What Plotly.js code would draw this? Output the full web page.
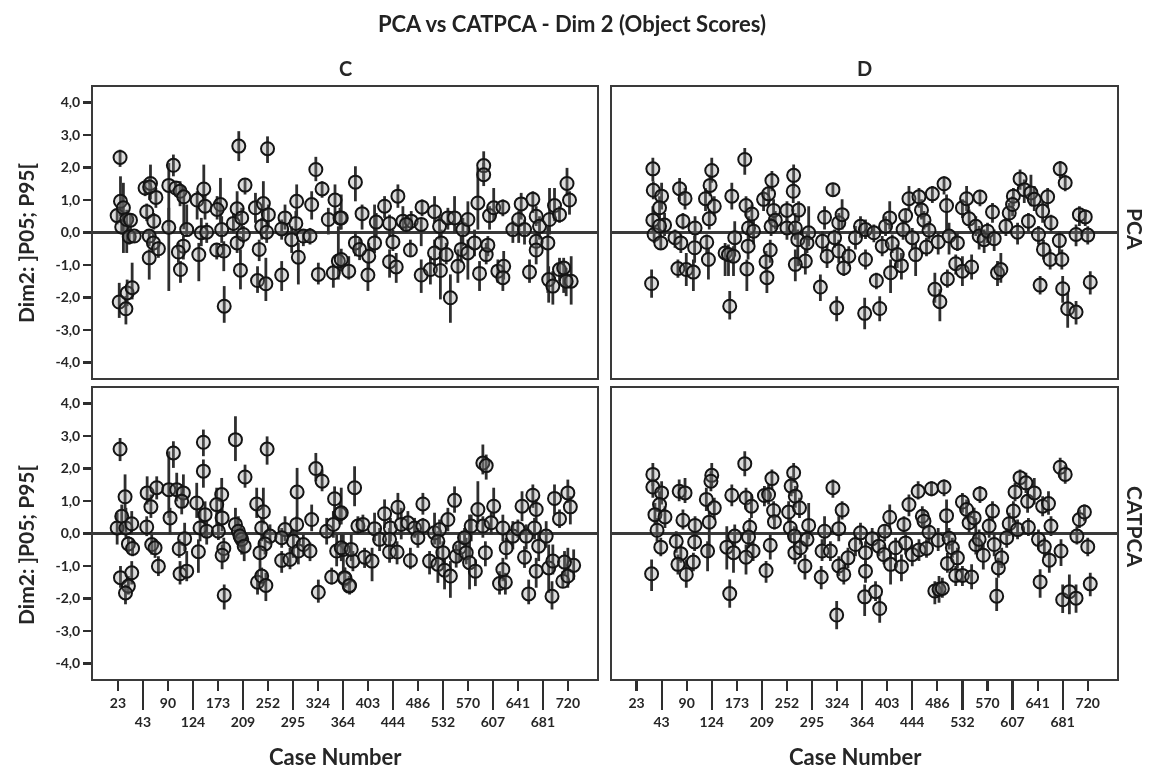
<!DOCTYPE html>
<html><head><meta charset="utf-8">
<script src="https://cdn.plot.ly/plotly-3.0.1.min.js"></script>
<style>html,body{margin:0;background:#fff;overflow:hidden}#g{width:1151px;height:771px;filter:blur(0.7px)}</style>
</head><body><div id="g"></div>
<script>
// Each row: [case position, score, P95, P05]
const oddLabels=['23','90','173','252','324','403','486','570','641','720'];
const evenLabels=['43','124','209','295','364','444','532','607','681'];
const oddPositions=[6,18,30,42,54,66,78,90,102,114];
const evenPositions=[12,24,36,48,60,72,84,96,108];
const yTicks=[4,3,2,1,0,-1,-2,-3,-4];
const yLabels=['4,0','3,0','2,0','1,0','0,0','-1,0','-2,0','-3,0','-4,0'];

const cPca=[[6.5,2.31,2.55,2.02],[5.8,.52,.76,.25],[6.6,.96,1.73,.5],[6.9,.17,.4,-.06],[7.3,.76,1.53,-.63],[8.1,.4,.7,-.63],[9,.38,.6,0],[8.7,-.13,.09,-.37],[9.9,-.11,.05,-.32],[6.3,-2.14,-1.55,-2.63],[7.9,-2.35,-1.96,-2.83],[8.2,-1.86,-1.45,-2.27],[9.4,-1.7,-.93,-2.06],[12.9,.64,.89,.35],[12.5,1.37,1.63,1.12],[13.8,1.51,2.09,1.02],[13.6,1.4,1.7,1],[15.1,1.08,1.37,.76],[14.6,.35,.6,.09],[13.5,-.11,.09,-.42],[14.5,-.32,0,-.63],[13.5,-.78,-.52,-1.45],[15.7,-.5,-.27,-.78],[19.3,2.07,2.4,1.73],[18.2,1.45,2.14,.2],[18.2,.16,.76,-1.8],[19.9,1.37,1.58,1.12],[20.9,1.27,1.58,.81],[21.8,1.1,1.43,.1],[22.5,.09,.86,-.11],[21.7,-.42,-.11,-.83],[20.5,-.6,-.32,-.93],[21,-1.14,-.88,-1.55],[25,1,1.27,.4],[26.6,1.34,2.09,.91],[26.9,.81,1.17,.4],[26,-.01,.45,-.42],[27.3,.01,.3,-.32],[25.4,-.68,-.32,-1.5],[30.6,.86,1.68,.3],[29.8,.71,1.12,.4],[30.9,.09,.5,-.32],[29.7,-.54,-.32,-.83],[31.4,-.57,-.27,-1.19],[31.5,-2.27,-1.65,-2.78],[35,2.66,3.12,2.2],[36.5,1.46,1.68,1.17],[34.6,.73,1.27,.4],[33.7,.28,.6,-.01],[35.7,.45,.76,.09],[34.6,-.32,0,-.63],[36.1,-.06,.2,-.32],[35.4,-1.16,-.52,-1.75],[39,.76,1.22,.3],[40.9,.89,1.58,.4],[42.1,.55,.86,.2],[40.5,.19,.45,-.22],[41.7,.01,.3,-.32],[39.9,-.52,-.22,-.88],[39.5,-1.48,-1.04,-1.86],[41.5,-1.58,-.78,-2.11],[41.9,2.58,2.96,2.14],[46.1,.45,.86,.09],[45.3,.11,.4,-.22],[48.9,.96,1.48,.5],[48.7,.28,.66,-.11],[47.7,-.22,.19,-.63],[49.3,-.76,-.32,-1.6],[45.3,-1.31,-.88,-1.8],[50.5,-.11,.09,-.42],[52.1,-.11,.14,-.37],[52.5,.86,1.27,.4],[53.5,1.94,2.33,1.58],[55,1.34,1.58,1.07],[58.1,1,1.48,.4],[56.5,.4,.76,-.06],[59.3,.45,.76,.09],[54.1,-1.29,-.93,-1.6],[57.7,-1.24,-.98,-1.7],[58.9,-.88,.19,-1.45],[59.6,.45,1.17,.09],[63,1.55,2.04,.96],[64.6,.58,.86,.09],[59.6,-.83,-.5,-1.2],[61.4,-1.19,-.73,-1.45],[63,-.32,.04,-.73],[66,-1.31,-.93,-1.8],[66.2,-.73,-.32,-1.14],[64,-.52,-.2,-.85],[67.6,-.32,.86,-.63],[68,.32,.6,-.11],[70,.81,1.12,.45],[71.2,.28,.55,-.11],[72,-.29,.09,-.57],[71.2,-.9,-.52,-1.39],[72.8,-1.06,-.63,-1.55],[73.2,1.12,1.48,.76],[74.4,.35,.81,.09],[76.4,.35,.66,.09],[75.2,.25,.5,0],[76.2,-.54,-.22,-.73],[79,.78,1.02,.5],[78.8,.25,.45,-.42],[78.8,-1.31,-.83,-1.86],[81,-1.14,-.73,-1.6],[82,.64,1.12,.3],[83.2,.19,.5,-.22],[83.6,-.32,.09,-.78],[82,-.63,-.22,-1.04],[84.8,-.68,-.32,-.98],[83.4,-1.17,-.63,-2.06],[85.2,.45,.76,.09],[86.8,.45,1.12,-.01],[85.8,-2.01,-1.29,-2.78],[87.6,-1.04,-.52,-1.55],[88.8,.09,.45,-.42],[90,.4,.96,-.06],[88.4,-.52,-.11,-.93],[90,-.63,-.22,-1.45],[91.6,-.32,.09,-.73],[92.4,.91,2,.09],[92.8,-1.26,-.88,-1.8],[93.8,2.06,2.5,1.63],[93.8,1.78,2.14,1.43],[94.4,-.68,-.32,-.98],[94.8,-.39,-.11,-.73],[95.2,.52,.81,.09],[96.2,.76,1.37,.35],[98.4,.78,1.02,.5],[97.2,-1.19,-.83,-1.55],[98.6,-1.04,-.57,-1.45],[98.4,-1.39,-1.04,-1.8],[100.8,.09,.35,-.32],[102.2,.4,.66,-.32],[102.8,.88,1.22,.4],[103.6,.09,.4,-.37],[104.8,-1.22,-.83,-1.55],[105.6,1.02,1.27,.6],[106.4,.5,.81,.2],[107.2,.19,.5,-.22],[106.4,-.27,-.01,-.52],[106.4,-.54,-.22,-.98],[109.2,-.32,.19,-1.86],[109.6,.4,1.37,-.06],[109.4,-1.45,-1.04,-2.16],[110.4,-1.65,-1.19,-2.22],[110.8,.83,1.37,.35],[112,.55,.81,.3],[112,-1.14,-.78,-1.5],[113,-1.09,-.78,-1.86],[113.8,1.51,1.99,1.12],[114.4,1,1.27,.55],[114.8,-1.5,-.73,-2.22],[113.6,-1.5,-1.09,-1.96]];

const dPca=[[9.9,1.96,2.3,1.58],[10,1.3,1.58,1.02],[9.9,.38,.81,-.01],[10.2,-.06,.2,-.32],[9.6,-1.57,-1.14,-2.01],[12,1.12,1.53,.71],[11.5,.76,1.12,.3],[12.7,.23,.6,-.11],[11.8,-.32,-.06,-.52],[11.5,.2,.5,-.1],[16.3,1.35,1.68,.96],[17.6,1.05,1.37,.71],[17.1,.35,.6,.09],[15.2,-.16,.09,-.47],[16.6,-.32,-.06,-.63],[15.9,-1.11,-.83,-1.39],[17.9,-1.14,-.63,-1.65],[19.6,-1.22,-.83,-1.8],[19.9,-.47,-.11,-.93],[20,.14,.5,-.22],[22.5,1.04,1.37,.66],[23.6,1.45,1.78,1.12],[24,1.91,2.3,1.53],[24.6,.81,1.12,.5],[23.4,.42,.71,.09],[22.8,-.3,-.06,-.63],[23.2,-.83,-.47,-1.45],[28.8,1.12,1.53,.71],[29.5,-.16,.35,-.73],[27.2,-.63,-.32,-1.34],[28,-.68,-.37,-1.34],[29.2,-.73,-.42,-1.34],[28.3,-2.27,-1.8,-2.68],[31.9,2.25,2.6,1.78],[32.2,.83,1.12,.5],[33.6,.57,.86,.25],[32.8,.14,.5,-.22],[34,.04,.4,-.37],[32.7,-.42,-.06,-.83],[32.4,-1.12,-.83,-1.8],[36.4,1.02,1.27,.66],[37.6,1.19,1.43,.86],[38.4,1.6,1.89,1.27],[38.8,.68,1.02,.3],[39.2,.38,.66,.09],[38.2,.19,.45,-.11],[38,-.54,-.22,-.93],[37,-.9,-.57,-1.24],[37.2,-1.39,-1.09,-1.86],[43.6,1.76,2.09,1.37],[43.5,1.27,1.58,.91],[42,.68,.96,.35],[44.8,.69,.96,.35],[42,.14,.45,-.22],[44,.14,.6,-.22],[44.6,-.22,.09,-1.04],[47.2,-.01,.81,-.42],[46.4,-.88,-.52,-1.29],[44,-.98,-.52,-1.5],[46.8,-.32,-.01,-.63],[51,.47,.81,.09],[53,1.32,1.53,1.12],[50.5,-.27,.04,-.63],[51.6,-.73,-.37,-1.09],[50,-1.68,-1.29,-2.11],[53.4,-.16,.09,-.47],[54.4,.3,.6,-.06],[55.2,.55,1.02,.09],[54.4,-.57,-.22,-.93],[53.9,-2.32,-1.96,-2.73],[55.6,-1.09,-.73,-1.34],[56.8,-.73,-.42,-1.04],[58.4,-.16,.2,-.52],[59.6,.19,.5,-.16],[60.8,-.83,-.52,-1.14],[60.6,-2.49,-2.01,-2.98],[63.4,-1.48,-1.24,-1.75],[64.2,-2.34,-1.96,-2.73],[60.8,.09,.4,-.2],[62.8,-.01,.25,-.3],[64.8,-.42,-.11,-.73],[66.6,.45,.96,.09],[65.6,.19,.5,-.11],[67.2,-.34,-.06,-.63],[66.8,-1.24,-.83,-1.86],[69.4,-1.02,-.63,-1.45],[68.4,-.68,-.37,-1.09],[70.4,.52,.71,.3],[69.8,.09,.4,-.22],[71.2,1.04,1.43,.66],[72,-.16,.14,-.52],[72.8,-.68,-.32,-1.34],[73.6,1.1,1.37,.76],[74.2,.69,1.02,.4],[74.8,.38,.66,.09],[75.4,-.45,-.16,-.73],[76,.07,.35,-.22],[76.8,1.19,1.43,.91],[79.6,1.5,1.73,1.17],[80.2,.83,1.17,-.01],[78.2,-.29,-.01,-.68],[77.4,-1.75,-1.24,-2.16],[78.6,-2.13,-1.75,-2.73],[80.4,-1.43,-1.14,-1.7],[80.8,-.11,.3,-.68],[82.8,-.32,-.01,-.57],[82.4,-.96,-.68,-1.29],[84,-1.19,-.73,-1.65],[86.2,-1.06,-.68,-1.45],[84,.76,1.02,.45],[85,1.04,1.43,.66],[85.6,.42,.71,.14],[88.2,1.09,1.32,.81],[87.2,.19,.5,-.11],[88,-.11,.2,-.52],[89.2,-.22,.09,-.63],[90,.04,.3,-.32],[91.2,.63,.91,.3],[91.6,-.19,.09,-.57],[92.4,-1.24,-.88,-1.65],[93.2,-1.14,-.63,-1.55],[94.4,.19,.45,-.11],[95.2,.6,.91,.35],[96.2,1.12,1.37,.81],[96,.86,1.12,.5],[97.2,.01,.3,-.37],[97.8,1.65,1.94,1.32],[98.8,1.32,1.63,.91],[99.8,.35,.6,.04],[100.4,1.22,1.78,.81],[101.2,1.02,1.43,.66],[102.2,-.06,.2,-.37],[102.6,-1.62,-1.34,-1.91],[103.4,-.52,-.22,-.83],[103.2,.66,.96,.3],[104.4,1.1,1.37,.76],[105.2,.3,.55,-.01],[105,-.83,-.52,-1.14],[107.4,1.96,2.2,1.68],[108.6,1.53,1.78,1.27],[107.2,-.25,.04,-.63],[107.8,-.83,-.52,-1.14],[108,-1.73,-1.34,-2.16],[109.2,-2.35,-1.86,-2.93],[111.2,-2.45,-2.11,-2.83],[111.2,-.06,.25,-.42],[112,.55,.81,.2],[113.4,.48,.71,.2],[114,-.08,.19,-.37],[114.6,-1.53,-1.19,-1.91]];

const cCat=[[6.5,2.6,2.94,2.23],[7.7,1.13,1.82,.74],[5.8,.17,.64,-.34],[6.9,.53,.89,-.03],[7.9,.17,.79,-.13],[9.3,.3,.69,-.03],[8.5,-.32,-.08,-.59],[9.5,-.46,-.18,-.7],[6.6,-1.36,-1,-1.67],[9.3,-1.21,-.85,-1.57],[8.5,-1.62,-1.31,-1.88],[7.8,-1.83,-1.57,-2.18],[13,1.25,1.76,.89],[15.3,1.41,1.76,1.05],[13.9,.82,1.2,.48],[12.9,.2,.53,-.08],[14.1,-.34,-.03,-.65],[14.9,-.44,-.18,-.75],[15.7,-1.01,-.7,-1.31],[19.3,2.48,2.84,2.02],[18.2,1.35,2.53,.48],[18.5,.48,.79,-.03],[20.1,1.35,1.87,.99],[21.7,1.25,1.82,.79],[21.3,.99,1.51,.59],[22,-.16,.33,-.54],[20.7,-.47,-.18,-.75],[20.9,-1.24,-.85,-1.57],[22.5,-1.16,-.54,-1.47],[26.5,2.81,3.2,2.38],[26.5,1.92,2.28,1.41],[24.9,.94,1.56,.48],[26.9,.58,.99,-.13],[25.7,.17,.74,-.24],[27.3,.07,.38,-.34],[25.3,-.56,-.18,-1.21],[30.9,1.2,1.71,.64],[29.7,.89,1.41,.28],[31,.48,.99,.07],[30.1,.07,.35,-.2],[31.4,-.46,-.13,-.85],[31,-.67,-.34,-1.1],[31.5,-1.9,-1.57,-2.34],[34.2,2.89,3.61,2.23],[36.5,1.74,2.12,1.41],[34.2,.28,.79,-.24],[34.9,.07,.53,-.34],[35.7,-.18,.17,-.65],[35.3,-.08,.28,-.44],[36.3,-.39,-.03,-.85],[39.3,.91,1.41,.48],[40.9,.67,1.41,.28],[40.5,.17,.48,-.24],[42.5,-.08,.28,-.34],[41.3,-.32,-.03,-.65],[40.1,-.59,-.24,-1.16],[39.5,-1.5,-1.16,-1.88],[40.5,-1.31,-1.05,-1.57],[41.5,-1.6,-1.21,-2.08],[41.8,2.6,2.99,2.12],[46.1,.12,.53,-.24],[45.3,-.13,.17,-.44],[45.3,-.83,-.54,-1.21],[47.3,-.8,-.44,-1.1],[49,1.28,2.02,.48],[48.9,.28,.53,-.13],[48.1,-.24,.12,-.75],[49.3,-.54,-.24,-.95],[50.5,-.34,-.03,-.65],[52.1,-.54,-.28,-.85],[52.5,.43,.89,.07],[53.5,2,2.48,1.61],[55,1.61,1.97,1.3],[54.1,-1.81,-1.42,-2.13],[56.1,.07,.48,-.34],[58,1.07,1.45,.64],[57.7,.28,.69,-.13],[57.3,-1.34,-1.05,-1.57],[59.3,.61,.94,.28],[58.5,-.54,-.03,-1.01],[60.1,-.49,-.03,-1.16],[60.5,-1.39,-1.05,-1.67],[61.5,-1.62,-1.31,-1.83],[59.6,.64,1.41,.28],[59.6,-.44,-.03,-.85],[60.4,-1.36,-1.05,-1.57],[61.6,-1.6,-1.31,-1.88],[62.8,1.41,2.07,.84],[63.6,.23,.53,-.03],[64.8,.28,.58,.02],[62.4,-.85,-.54,-1.16],[62,-.49,-.03,-.85],[65.2,-.73,-.44,-1.06],[67,-.85,-.44,-1.47],[67.6,.15,.64,-.24],[70,.61,1.05,.17],[68.8,-.18,.17,-.54],[71.4,.17,.48,-.24],[71.2,-.18,.17,-.54],[71.2,-.57,-.24,-.9],[73,-.57,-.24,-.95],[73.2,.81,1.25,.43],[74,.28,.79,-.18],[75.6,.33,.69,.07],[76.2,-.83,-.44,-1.1],[77.2,.17,.48,-.13],[78,-.13,.17,-.44],[79.2,.91,1.25,.58],[79.2,.23,.48,-.03],[80.8,-.85,-.54,-1.26],[82,.02,.64,-.34],[83.2,.12,.43,-.34],[82.8,-.24,.07,-.65],[82.8,-.95,-.54,-1.52],[84,-.59,-.24,-1.05],[84.4,-1.13,-.75,-1.72],[85.2,.43,.79,.07],[85.8,-1.31,-.85,-1.98],[86.8,1.02,1.45,.64],[87.2,-.7,-.34,-1.05],[88,-.44,-.03,-.85],[89.2,-.13,.17,-.44],[89.6,-.59,-.13,-.95],[90.4,-.9,.58,-1.72],[90.8,.23,.58,-.24],[91.8,-1.16,-.8,-1.62],[92.4,.74,1.61,.28],[93.6,.23,.53,-.13],[93.6,2.17,2.74,1.82],[94.4,2.09,2.43,1.66],[94.2,-.59,-.24,-1.01],[96.2,.84,1.41,.48],[95.6,.33,.64,-.03],[98.4,.17,.58,-.24],[97.6,-1.54,-1.16,-1.88],[98.4,-1.11,-.75,-1.47],[99,-1.5,-1.21,-1.88],[99.2,-.44,-.13,-.8],[100.8,-.08,.38,-.49],[102,.15,.43,-.13],[103,.84,1.3,.38],[103.6,-.73,-.39,-1.06],[104,-.08,.28,-.49],[104.6,-1.86,-1.42,-2.18],[105.6,1.18,1.51,.79],[106.4,.74,1.05,.38],[106,.17,.48,-.18],[107,-.39,-.03,-.85],[106.4,-1.16,-.75,-1.67],[108.8,-.08,.38,-.44],[109.4,-1.06,-.34,-1.83],[110.2,-1.93,-1.47,-2.34],[110.4,-.85,-.34,-1.26],[110.8,1.08,1.51,.58],[112,.45,.74,.17],[112.8,-1.47,-1.16,-1.67],[114,1.25,1.66,.94],[114.6,.82,1.15,.28],[114,-1.31,-.44,-1.67],[115.4,-.98,-.49,-1.42],[113.2,-.88,-.54,-1.26]];

const dCat=[[9.9,1.82,2.17,1.46],[9.9,1.43,1.71,1.1],[12,1.25,1.61,.89],[11.5,.89,1.3,.48],[10.4,.58,.94,.28],[12.8,.51,.84,.17],[10.9,.1,.48,-.24],[11.8,-.42,-.13,-.7],[9.6,-1.24,-.8,-1.77],[16.2,1.3,1.66,.99],[17.6,1.25,1.71,.94],[17.1,.41,.74,.12],[15.5,-.24,.07,-.59],[16.6,-.62,-.34,-.9],[15.9,-.95,-.65,-1.26],[17.9,-1.26,-.8,-1.67],[19.6,-.88,-.59,-1.16],[20,.25,.53,-.03],[19.9,-.26,.07,-.54],[22.7,1.05,1.41,.69],[24,1.79,2.17,1.46],[23.8,1.61,1.92,1.3],[24.6,.79,1.1,.43],[23.4,.35,.69,-.75],[23,-.54,-.24,-1.16],[28.8,1.18,1.51,.84],[29.5,-.08,.28,-.44],[27.6,-.42,.22,-1.11],[29.2,-.59,-.24,-1.21],[28.3,-1.85,-1.42,-2.29],[31.9,2.15,2.53,1.76],[32.2,1.1,1.41,.74],[33.5,.84,1.2,.48],[33.1,.19,.48,-.24],[32.8,-.11,.17,-.44],[33.9,-.54,-.24,-.85],[32.2,-.73,-.34,-1.26],[36.6,1.17,1.46,.84],[37.6,1.2,1.51,.89],[38.4,1.69,1.97,1.35],[38.8,.71,.99,.43],[39,.36,.58,.12],[38,-.36,-.03,-.8],[37,-1.14,-.85,-1.52],[43.6,1.87,2.17,1.56],[43,1.46,1.76,1.15],[44,1.15,1.46,.79],[42.4,.66,.99,.33],[45,.79,1.1,.48],[42.8,.17,.48,-.24],[43.8,-.08,.22,-.44],[43.9,-.59,-.24,-.95],[47.2,.25,.94,-.18],[45.2,-.44,-.13,-.75],[46.3,-1,-.65,-1.42],[46.8,-.18,.12,-.49],[51,.07,.53,-.34],[50.2,-1.34,-1,-1.72],[50.4,-.54,-.18,-.85],[53,1.41,1.66,1.1],[52.4,-.54,-.24,-.85],[55.2,.72,.99,.43],[54.4,.15,.53,-.24],[53.9,-2.51,-2.08,-2.95],[54.4,-1,-.7,-1.31],[55.6,-1.26,-.95,-1.57],[56.6,-.75,-.44,-1.06],[58.4,-.34,.02,-.7],[59.6,.02,.33,-.34],[60.8,-.59,-.24,-.95],[60.8,-1.16,-.85,-1.52],[60.6,-1.95,-1.57,-2.54],[62.4,-.16,.17,-.49],[63.2,-1.79,-1.47,-2.08],[64.2,-2.31,-1.93,-2.75],[64,-.39,-.08,-.7],[65.2,-.65,-.34,-.95],[66.6,.5,.89,.12],[65.4,.07,.28,-.24],[66.8,-.95,-.54,-1.57],[68,-.44,-.13,-.85],[69.4,-1.02,-.65,-1.47],[70,.28,.53,-.03],[71.2,.89,1.2,.53],[70.4,-.29,.02,-.65],[72,-.65,-.34,-1.01],[73.4,1.3,1.61,1.05],[73.6,-.51,-.18,-.85],[74.4,.53,.84,.22],[74.8,.38,.69,.12],[75.4,-.46,-.18,-.75],[76,.04,.28,-.29],[76.6,1.38,1.61,1.15],[79.6,1.43,1.66,1.15],[80.2,.55,1.05,-.13],[78.2,-.21,.17,-.54],[77.4,-1.77,-1.47,-2.18],[78.4,-1.72,-1.31,-2.13],[79.2,-1.69,-1.36,-1.98],[80.8,-.15,.17,-.49],[80.4,-.92,-.59,-1.21],[81.6,-.44,-.13,-.75],[82.8,-.75,-.44,-1.06],[82.4,-1.29,-1,-1.62],[84,-1.29,-1,-1.62],[86.2,-1.34,-.95,-1.72],[84,.97,1.25,.64],[85,.74,1.05,.43],[85.6,.33,.64,.02],[86.8,.48,.79,.17],[88.2,1.22,1.46,.94],[87.2,-.34,.48,-.65],[88,-.18,.12,-.54],[89,-.67,-.34,-1.11],[90.4,.23,.53,-.13],[91.2,.69,.99,.38],[91.6,-.34,.02,-.7],[93.4,-.75,-.44,-1.06],[92.6,-1.06,-.75,-1.36],[92.2,-1.93,-1.36,-2.39],[94.6,-.13,.17,-.44],[95.2,.3,.64,-.08],[96.2,.69,.99,.33],[96.6,1.28,1.56,.99],[97.2,.12,.43,-.18],[97.8,1.72,1.97,1.41],[99.2,1.56,1.87,1.25],[99.8,.19,.48,-.08],[99.6,.99,1.3,.64],[101.2,1.25,1.71,.89],[102.2,-.18,.12,-.49],[102.6,-1.49,-1.1,-1.98],[103.6,-.41,-.13,-.75],[103.2,.84,1.15,.53],[104.6,.92,1.3,.58],[105.2,.23,.53,-.08],[104.8,-.82,-.49,-1.21],[107.4,2.04,2.33,1.71],[108.6,1.82,2.1,1.53],[107.6,-.54,-.18,-1],[108,-2.04,-1.57,-2.45],[109.6,-1.79,-1.26,-2.49],[111.2,-1.99,-1.57,-2.44],[111.4,-.08,.22,-.34],[112,.43,.74,.17],[113.2,.66,.89,.38],[114,-.41,-.13,-.7],[114.6,-1.55,-1.21,-1.93]];

const W=1151,H=771,FONT='Lato,sans-serif',INK='#262626';
const px=(a,b)=>[a/W,b/W], py=(t,b)=>[(H-b)/H,(H-t)/H];
const colC=px(93,597), colD=px(611.5,1117), rowT=py(87,378), rowB=py(388,679);
const XR=[0,121], YR=[-4.48,4.48];

function panel(rows,xa,ya){
  return {type:'scatter',mode:'markers',xaxis:xa,yaxis:ya,showlegend:false,hoverinfo:'skip',
    x:rows.map(r=>r[0]),y:rows.map(r=>r[1]),
    error_y:{type:'data',symmetric:false,array:rows.map(r=>r[2]-r[1]),arrayminus:rows.map(r=>r[1]-r[3]),
      color:'#2e2e2e',thickness:2.8,width:0},
    marker:{symbol:'circle',size:13,color:'rgba(140,140,140,0.3)',line:{color:'#141414',width:2}}};
}
const empty=(xa,ya)=>({type:'scatter',mode:'markers',x:[null],y:[null],xaxis:xa,yaxis:ya,showlegend:false,hoverinfo:'skip'});
const tf={family:FONT,size:14,color:INK,weight:700};
const baseX=d=>({domain:d,range:XR,fixedrange:true,showgrid:false,zeroline:false,showline:true,mirror:true,linecolor:'#3a3a3a',linewidth:2,ticks:'',showticklabels:false});
const baseY=(d,labels)=>({domain:d,range:YR,fixedrange:true,showgrid:false,zeroline:true,zerolinecolor:'#3a3a3a',zerolinewidth:3,showline:true,mirror:true,linecolor:'#3a3a3a',linewidth:2,
  tickmode:'array',tickvals:yTicks,ticktext:yLabels,ticks:labels?'outside':'',ticklen:8,tickwidth:2.2,tickcolor:'#2e2e2e',showticklabels:labels,tickfont:tf});
const oddX=(d,y)=>Object.assign(baseX(d),{anchor:y,tickmode:'array',tickvals:oddPositions,ticktext:oddLabels,ticks:'outside',ticklen:10,tickwidth:2.2,tickcolor:'#2e2e2e',showticklabels:true,tickfont:tf,tickangle:0});
const evenX=(d,y,over)=>({domain:d,range:XR,fixedrange:true,anchor:y,overlaying:over,showgrid:false,zeroline:false,showline:false,tickmode:'array',tickvals:evenPositions,ticktext:evenLabels,ticks:'outside',ticklen:30,tickwidth:2.2,tickcolor:'#2e2e2e',showticklabels:true,tickfont:tf,tickangle:0});

const ann=(text,x,y,size,angle)=>({text,x:x/W,y:(H-y)/H,xref:'paper',yref:'paper',showarrow:false,xanchor:'center',yanchor:'middle',textangle:angle||0,font:{family:FONT,size,color:INK,weight:700}});

const layout={width:W,height:H,margin:{l:0,r:0,t:0,b:0},paper_bgcolor:'#fff',plot_bgcolor:'#fff',showlegend:false,
  title:{text:'PCA vs CATPCA - Dim 2 (Object Scores)',x:572/W,xanchor:'center',y:(H-24)/H,yanchor:'middle',font:{family:FONT,size:22,color:'#222',weight:700}},
  xaxis:Object.assign(baseX(colC),{anchor:'y'}),yaxis:Object.assign(baseY(rowT,true),{anchor:'x'}),
  xaxis2:Object.assign(baseX(colD),{anchor:'y2'}),yaxis2:Object.assign(baseY(rowT,false),{anchor:'x2'}),
  xaxis3:oddX(colC,'y3'),yaxis3:Object.assign(baseY(rowB,true),{anchor:'x3'}),
  xaxis4:oddX(colD,'y4'),yaxis4:Object.assign(baseY(rowB,false),{anchor:'x4'}),
  xaxis5:evenX(colC,'y3','x3'),xaxis6:evenX(colD,'y4','x4'),
  annotations:[ann('C',345,68,20),ann('D',864,68,20),ann('PCA',1136,229,21,90),ann('CATPCA',1136,526,21,90),
    ann('Dim2: ]P05; P95[',25,243,21,-90),ann('Dim2: ]P05; P95[',25,545,21,-90),
    ann('Case Number',335,756,22),ann('Case Number',855,756,22)]};

const traces=[panel(cPca,'x','y'),panel(dPca,'x2','y2'),panel(cCat,'x3','y3'),panel(dCat,'x4','y4'),empty('x5','y3'),empty('x6','y4')];
Plotly.newPlot('g',traces,layout,{staticPlot:true,displayModeBar:false});
</script></body></html>
